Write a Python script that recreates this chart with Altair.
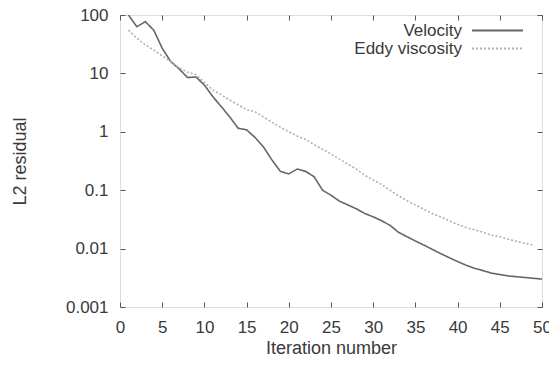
import altair as alt
import pandas as pd

iter_vel = list(range(1, 51))
velocity = [100, 63, 77, 55, 27, 16, 12, 8.5, 8.7, 6.3,
            4.0, 2.7, 1.8, 1.15, 1.08, 0.8, 0.55, 0.33, 0.21, 0.19,
            0.23, 0.21, 0.17, 0.1, 0.082, 0.065, 0.056, 0.048, 0.04, 0.035,
            0.03, 0.025, 0.019, 0.016, 0.0135, 0.0115, 0.0097, 0.0082, 0.007, 0.006,
            0.0052, 0.0046, 0.0042, 0.0038, 0.0036, 0.0034, 0.0033, 0.0032, 0.0031, 0.003]

iter_eddy = list(range(1, 50))
eddy = [55, 40, 31, 25, 20, 16, 12.5, 10.5, 9.5, 7.0,
        5.2, 4.3, 3.5, 2.9, 2.4, 2.2, 1.8, 1.45, 1.2, 1.0,
        0.85, 0.74, 0.6, 0.5, 0.42, 0.34, 0.28, 0.23, 0.18, 0.15,
        0.125, 0.1, 0.08, 0.066, 0.056, 0.047, 0.04, 0.035, 0.03, 0.026,
        0.023, 0.021, 0.019, 0.017, 0.016, 0.0145, 0.0133, 0.0123, 0.0115]

series_names = ["Velocity", "Eddy viscosity"]
y_ticks = [0.001, 0.01, 0.1, 1, 10, 100]
x_ticks = list(range(0, 51, 5))

df = pd.concat([
    pd.DataFrame({"iter": iter_vel, "res": velocity, "series": series_names[0]}),
    pd.DataFrame({"iter": iter_eddy, "res": eddy, "series": series_names[1]}),
])

FONT = "Liberation Sans"
TXT = "#3a3a3a"
xscale = alt.Scale(domain=[0, 50], nice=False, zero=False)
yscale = alt.Scale(type="log", domain=[0.001, 100], nice=False)

lines = alt.Chart(df).mark_line(strokeWidth=1.6, clip=True).encode(
    x=alt.X("iter:Q", title="Iteration number", scale=xscale,
            axis=alt.Axis(values=x_ticks, format="d", offset=-5, tickSize=5,
                          domain=False, grid=False, labelPadding=12,
                          labelFontSize=17, titleFontSize=18, titlePadding=4,
                          labelColor=TXT, titleColor=TXT, tickColor="#555",
                          labelFont=FONT, titleFont=FONT, titleFontWeight="normal",
                          labelFlush=False)),
    y=alt.Y("res:Q", title="L2 residual", scale=yscale,
            axis=alt.Axis(values=y_ticks, format="~g", offset=-5, tickSize=5,
                          domain=False, grid=False, labelPadding=12,
                          labelFontSize=17, titleFontSize=18, titlePadding=36,
                          labelColor=TXT, titleColor=TXT, tickColor="#555",
                          labelFont=FONT, titleFont=FONT, titleFontWeight="normal",
                          labelFlush=False)),
    color=alt.Color("series:N", title=None,
                    scale=alt.Scale(domain=series_names, range=["#666666", "#b0b0b0"]),
                    legend=alt.Legend(orient="none", legendX=367.5, legendY=5.5,
                                      symbolType="M-3,0H3", symbolSize=290,
                                      symbolStrokeWidth=2, symbolFillColor="transparent",
                                      labelAlign="right",
                                      labelOffset={"expr": "-45.5"},
                                      rowPadding=0, padding=0,
                                      labelFontSize=17, labelFont=FONT, labelColor=TXT)),
    strokeDash=alt.StrokeDash("series:N", title=None,
                              scale=alt.Scale(domain=series_names, range=[[1, 0], [2, 2]]),
                              legend=None),
)

mirror = alt.Chart(df).mark_point(opacity=0).encode(
    x=alt.X("iter:Q", title=None, scale=xscale,
            axis=alt.Axis(orient="top", values=x_ticks, labels=False, offset=-5,
                          ticks=True, tickSize=5, domain=False, grid=False,
                          tickColor="#555", tickOpacity=1)),
    y=alt.Y("res:Q", title=None, scale=yscale,
            axis=alt.Axis(orient="right", values=y_ticks, labels=False, offset=-5,
                          ticks=True, tickSize=5, domain=False, grid=False,
                          tickColor="#555", tickOpacity=1)),
)

chart = alt.layer(lines, mirror).resolve_scale(
    x="independent", y="independent"
).resolve_axis(
    x="independent", y="independent"
).properties(
    width=422, height=292,
    autosize=alt.AutoSizeParams(type="none"),
    padding={"left": 120, "top": 15, "right": 7, "bottom": 58},
).configure_view(stroke="#9a9a9a", strokeWidth=2).configure(background="white")

chart.save("out.html", embed_options={"renderer": "svg", "actions": False})
